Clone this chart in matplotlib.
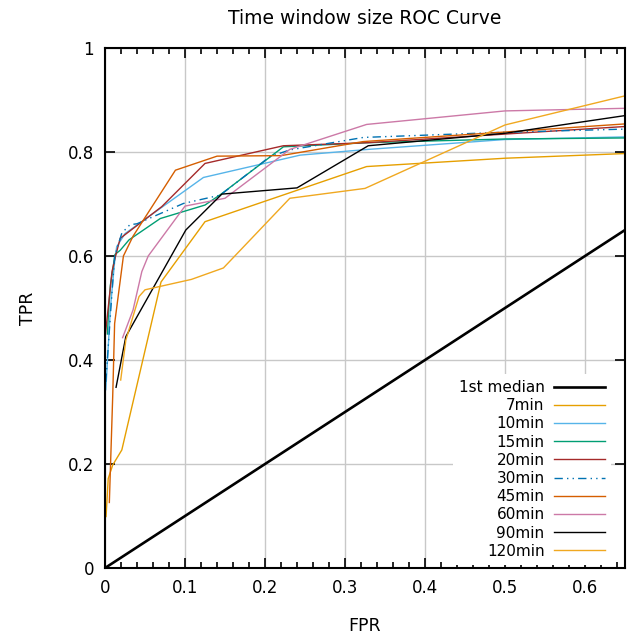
import matplotlib
matplotlib.use("Agg")
import matplotlib.pyplot as plt
from matplotlib.ticker import MultipleLocator

# ROC curves (FPR, TPR)
median_x = [0.0, 0.65]
median_y = [0.0, 0.65]

x_7 = [0.0013, 0.004, 0.0096, 0.021, 0.07, 0.125, 0.327, 0.5, 0.65]
y_7 = [0.099, 0.172, 0.198, 0.227, 0.55, 0.666, 0.772, 0.788, 0.797]

x_10 = [0.001, 0.0067, 0.012, 0.0146, 0.025, 0.123, 0.244, 0.329, 0.5, 0.65]
y_10 = [0.343, 0.499, 0.589, 0.618, 0.643, 0.751, 0.794, 0.805, 0.824, 0.829]

x_15 = [0.003, 0.0046, 0.0067, 0.0125, 0.019, 0.03, 0.069, 0.125, 0.146, 0.223, 0.33, 0.5, 0.65]
y_15 = [0.45, 0.499, 0.544, 0.603, 0.611, 0.631, 0.672, 0.698, 0.72, 0.81, 0.818, 0.825, 0.827]

x_20 = [0.0004, 0.00875, 0.013, 0.019, 0.071, 0.125, 0.223, 0.33, 0.65]
y_20 = [0.448, 0.57, 0.599, 0.634, 0.695, 0.778, 0.812, 0.818, 0.849]

x_30 = [0.001, 0.00875, 0.012, 0.021, 0.031, 0.04, 0.098, 0.144, 0.206, 0.231, 0.323, 0.5, 0.65]
y_30 = [0.358, 0.531, 0.599, 0.644, 0.66, 0.662, 0.701, 0.717, 0.791, 0.804, 0.828, 0.838, 0.844]

x_45 = [0.0054, 0.0096, 0.012, 0.023, 0.035, 0.088, 0.14, 0.22, 0.3225, 0.65]
y_45 = [0.126, 0.33, 0.47, 0.6, 0.638, 0.765, 0.792, 0.793, 0.82, 0.854]

x_60 = [0.022, 0.035, 0.046, 0.054, 0.1, 0.15, 0.231, 0.327, 0.5, 0.65]
y_60 = [0.443, 0.496, 0.57, 0.6, 0.696, 0.711, 0.805, 0.853, 0.879, 0.884]

x_90 = [0.0138, 0.026, 0.101, 0.146, 0.24, 0.329, 0.5, 0.65]
y_90 = [0.3475, 0.445, 0.65, 0.719, 0.731, 0.812, 0.836, 0.870]

x_120 = [0.0196, 0.026, 0.0425, 0.05, 0.108, 0.148, 0.231, 0.325, 0.5, 0.65]
y_120 = [0.3615, 0.438, 0.522, 0.535, 0.555, 0.577, 0.711, 0.730, 0.852, 0.908]

fig = plt.figure(figsize=(6.3, 6.39), dpi=100)
ax = fig.add_axes([0.1667, 0.1111, 0.8254, 0.8138])

ax.plot(median_x, median_y, color="black", lw=1.9, label="1st median")
ax.plot(x_7, y_7, color="#E69F00", lw=1.0, label="7min")
ax.plot(x_10, y_10, color="#56B4E9", lw=1.0, label="10min")
ax.plot(x_15, y_15, color="#009E73", lw=1.0, label="15min")
ax.plot(x_20, y_20, color="#A52A2A", lw=1.0, label="20min")
ax.plot(x_30, y_30, color="#0072B2", lw=1.0, dashes=(6, 3, 1, 3, 1, 3), label="30min")
ax.plot(x_45, y_45, color="#D55E00", lw=1.0, label="45min")
ax.plot(x_60, y_60, color="#CC79A7", lw=1.0, label="60min")
ax.plot(x_90, y_90, color="black", lw=1.0, label="90min")
ax.plot(x_120, y_120, color="#F0A820", lw=1.0, label="120min")

ax.set_xlim(0, 0.65)
ax.set_ylim(0, 1)
ax.xaxis.set_major_locator(MultipleLocator(0.1))
ax.xaxis.set_minor_locator(MultipleLocator(0.02))
ax.yaxis.set_major_locator(MultipleLocator(0.2))
ax.xaxis.set_major_formatter(plt.FuncFormatter(lambda v, p: "%g" % round(v, 2)))
ax.yaxis.set_major_formatter(plt.FuncFormatter(lambda v, p: "%g" % round(v, 2)))
ax.tick_params(which="both", direction="in", top=True, right=True, labelsize=12, width=1.2)
ax.tick_params(which="major", length=7, pad=8)
ax.tick_params(which="minor", length=4)
ax.grid(True, which="major", color="#c8c8c8", lw=1.0)
ax.set_axisbelow(True)
for s in ax.spines.values():
    s.set_linewidth(1.5)

ax.set_title("Time window size ROC Curve", fontsize=13.5, pad=17)
ax.set_xlabel("FPR", fontsize=12.5, labelpad=14)
ax.set_ylabel("TPR", fontsize=12.5, labelpad=22)

leg = ax.legend(loc="lower right", bbox_to_anchor=(0.973, 0.006), borderaxespad=0,
                fontsize=11, frameon=True, fancybox=False, markerfirst=False,
                handlelength=3.3, labelspacing=0.21, handletextpad=0.65)
leg.get_frame().set_edgecolor("none")
leg.get_frame().set_facecolor("white")
leg.get_frame().set_alpha(1.0)
for t in leg.get_texts():
    t.set_ha("right")
leg._legend_box.align = "right"

fig.savefig("out.png", dpi=100)
